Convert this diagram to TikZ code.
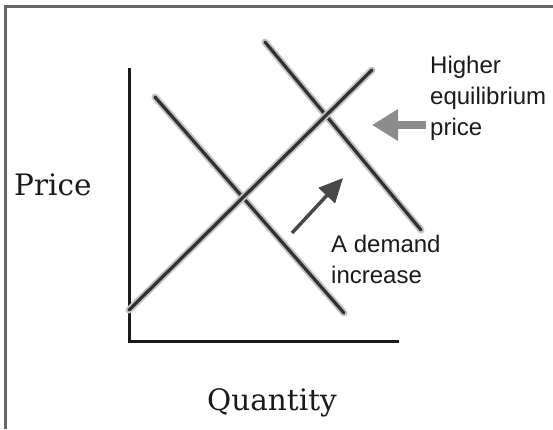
\documentclass[tikz,border=0pt]{standalone}
\usepackage{fontspec}
\usetikzlibrary{arrows.meta}
\newfontfamily\notefont{Liberation Sans}
\newfontfamily\axisfont{DejaVu Serif}
\definecolor{ink}{HTML}{1A1A1A}
\definecolor{halo}{HTML}{A8A8A8}
\definecolor{hint}{HTML}{8C8C8C}
\tikzset{
  ax/.style={draw=ink, line width=3bp},
  crv/.style={draw=ink!90, line width=3.2bp, line cap=round,
              preaction={draw=halo!70, line width=7bp, line cap=round}},
  rim/.style={draw=black!60, line width=3bp},
  nt/.style={font=\notefont\fontsize{24bp}{31bp}\selectfont, align=left,
             inner sep=0pt, text=ink},
  axl/.style={font=\axisfont\fontsize{29.5bp}{34bp}\selectfont, inner sep=0pt, text=ink},
  up/.style={-{Triangle[length=24bp, width=22bp]}, draw=ink!80, fill=ink!60,
             line width=3.5bp},
  pt/.style={-{Triangle[length=26bp, width=30bp]}, draw=hint, fill=hint,
             line width=8bp},
}
\begin{document}
\begin{tikzpicture}[x=1bp, y=-1bp]
    \useasboundingbox (0,0) rectangle (553,429);
    % frame
    \coordinate (fa) at (5,429); \coordinate (fb) at (5,6); \coordinate (fc) at (553,6);
    \draw[rim] (fa) -- (fb) -- (fc);
    % axes
    \coordinate (o) at (129,341); \coordinate (ytop) at (129,68); \coordinate (xend) at (399,341);
    \draw[ax] (ytop) -- (o) -- (xend);
    % supply and the two demand lines
    \coordinate (s0) at (129,310); \coordinate (s1) at (372,70);
    \coordinate (da0) at (155,97); \coordinate (da1) at (344,313);
    \coordinate (db0) at (265,42); \coordinate (db1) at (421,230);
    \draw[crv] (da0) -- (da1);
    \draw[crv] (db0) -- (db1);
    \draw[crv] (s0) -- (s1);
    % shift arrows
    \coordinate (ua) at (292,233); \coordinate (ub) at (343,178);
    \draw[up] (ua) -- (ub);
    \coordinate (pa) at (426,125); \coordinate (pb) at (372,125);
    \draw[pt] (pa) -- (pb);
    % labels (base = last line)
    \node[nt, anchor=base west] (hi) at (430,135) {Higher\\equilibrium\\price};
    \node[nt, anchor=base west] (dem) at (331,283) {A demand\\increase};
    \node[axl, anchor=base west] (pr) at (14,195) {Price};
    \node[axl, anchor=base] (qt) at (272,410) {Quantity};
  \end{tikzpicture}
\end{document}
